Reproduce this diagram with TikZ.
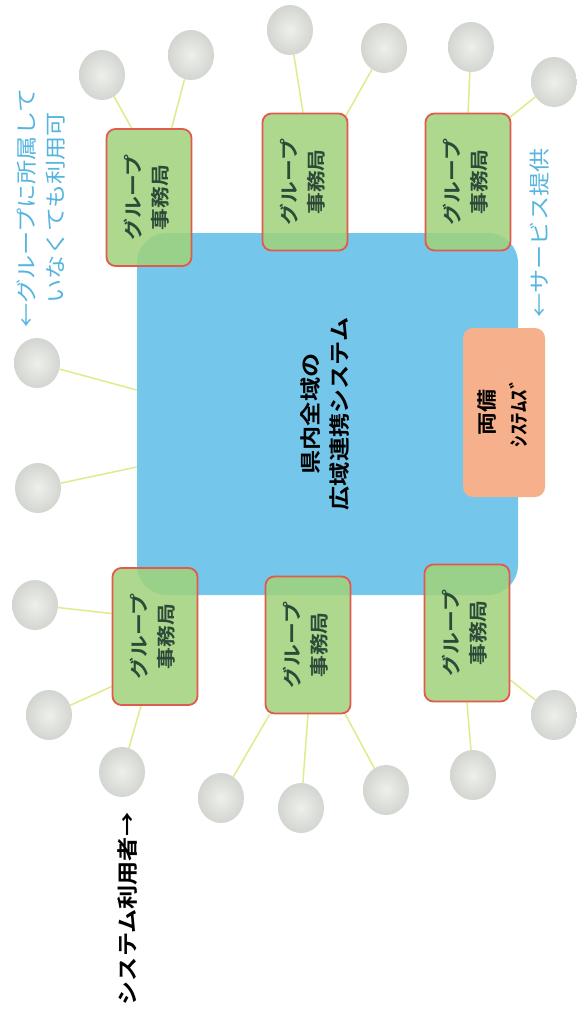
\documentclass[tikz,border=0pt]{standalone}
\usepackage{fontspec}
\setmainfont{Noto Sans CJK JP}[FakeStretch=1.15,BoldFont={Noto Sans CJK JP Bold},BoldFeatures={FakeStretch=1.15}]
\usetikzlibrary{shapes.geometric}
\definecolor{sysblue}{HTML}{74C6EA}
\definecolor{grpgreen}{HTML}{A0D27A}
\definecolor{grpred}{HTML}{E05A4E}
\definecolor{orbox}{HTML}{F7B08C}
\definecolor{linkyel}{HTML}{E2EA8C}
\definecolor{notecol}{HTML}{55B5DF}
\definecolor{grptext}{HTML}{2D4A38}
\definecolor{ballout}{HTML}{D2D5D0}
\definecolor{ballin}{HTML}{EEF0EC}
\newcommand\vtext[1]{\rotatebox{90}{\begin{tabular}{@{}c@{}}#1\end{tabular}}}
\pgfdeclarelayer{paper}
\pgfdeclarelayer{bg}
\pgfsetlayers{paper,bg,main}
\tikzset{
  sysbox/.style={fill=sysblue,rounded corners=30pt,minimum width=381pt,minimum height=362pt,inner sep=0pt,
    font=\fontsize{21}{29}\selectfont\bfseries},
  grpbox/.style={fill=grpgreen,fill opacity=0.85,text opacity=1,draw=grpred,line width=1.8pt,rounded corners=9pt,
    minimum width=85pt,minimum height=137pt,inner sep=0pt,text=grptext,font=\fontsize{19}{27}\selectfont\bfseries},
  orangebox/.style={fill=orbox,rounded corners=10pt,minimum width=82pt,minimum height=169pt,inner sep=0pt,
    font=\fontsize{20}{32}\selectfont\bfseries},
  ball/.style={ellipse,minimum width=46pt,minimum height=50pt,inner sep=0pt,shading=radial,inner color=ballin,outer color=ballout},
  link/.style={draw=linkyel,line width=1.5pt},
  note/.style={text=notecol,inner sep=0pt,font=\fontsize{21}{29}\selectfont}
}
\begin{document}
\begin{tikzpicture}[x=1pt,y=-1pt]
\begin{pgfonlayer}{paper}
\useasboundingbox[fill=white] (0,0) rectangle (573,1020);
\end{pgfonlayer}
% central system
\node[sysbox] (sys) at (327.5,414) {\vtext{県内全域の\\広域連携システム}};
\node[orangebox] (ryobi) at (504,412.5) {\vtext{両備\\ｼｽﾃﾑｽﾞ}};
% group offices
\node[grpbox] (g1) at (149,197.5) {\vtext{グループ\\事務局}};
\node[grpbox] (g2) at (305,182) {\vtext{グループ\\事務局}};
\node[grpbox] (g3) at (468,182) {\vtext{グループ\\事務局}};
\node[grpbox] (g4) at (155,636.5) {\vtext{グループ\\事務局}};
\node[grpbox] (g5) at (308,645) {\vtext{グループ\\事務局}};
\node[grpbox] (g6) at (467,633) {\vtext{グループ\\事務局}};
% users
\node[ball] (bA) at (102,75) {};
\node[ball] (bB) at (191,55) {};
\node[ball] (bC) at (290,30) {};
\node[ball] (bD) at (384,48) {};
\node[ball] (bE) at (471,47) {};
\node[ball] (bF) at (554,82) {};
\node[ball] (bG) at (37,363) {};
\node[ball] (bH) at (38,488) {};
\node[ball] (bI) at (35,605) {};
\node[ball] (bJ) at (49,715) {};
\node[ball] (bK) at (122,772) {};
\node[ball] (bL) at (221,798) {};
\node[ball] (bM) at (301,808) {};
\node[ball] (bN) at (386,790) {};
\node[ball] (bO) at (473,775) {};
\node[ball] (bP) at (554,715) {};
% links
\begin{pgfonlayer}{bg}
\draw[link] (bA) -- ([xshift=26pt]g1.north west);
\draw[link] (bB) -- ([xshift=66pt]g1.north west);
\draw[link] (bC) -- ([xshift=-2pt]g2.north);
\draw[link] (bD) -- ([xshift=-3pt,yshift=-4pt]g2.north east);
\draw[link] (bE) -- (g3.north);
\draw[link] (bF) -- ([xshift=-2pt,yshift=-5pt]g3.north east);
\draw[link] (bG) -- ([yshift=24pt]sys.west);
\draw[link] (bH) -- ([yshift=-53pt]sys.west);
\draw[link] (bI) -- ([yshift=23pt]g4.west);
\draw[link] (bJ) -- ([yshift=-50pt]g4.west);
\draw[link] (bK) -- ([xshift=-14pt]g4.south);
\draw[link] (bL) -- ([xshift=5pt]g5.south west);
\draw[link] (bM) -- (g5.south);
\draw[link] (bN) -- ([xshift=-6pt]g5.south east);
\draw[link] (bO) -- (g6.south);
\draw[link] (bP) -- ([yshift=-47pt]g6.east);
\end{pgfonlayer}
% notes
\node[note] (n1) at (43,208) {\vtext{←グループに所属して\\いなくても利用可}};
\node[note] (n2) at (540,233) {\rotatebox{90}{←サービス提供}};
\node[inner sep=0pt,font=\fontsize{21}{29}\selectfont\bfseries] (n3) at (128,909) {\rotatebox{90}{システム利用者→}};
\end{tikzpicture}
\end{document}
